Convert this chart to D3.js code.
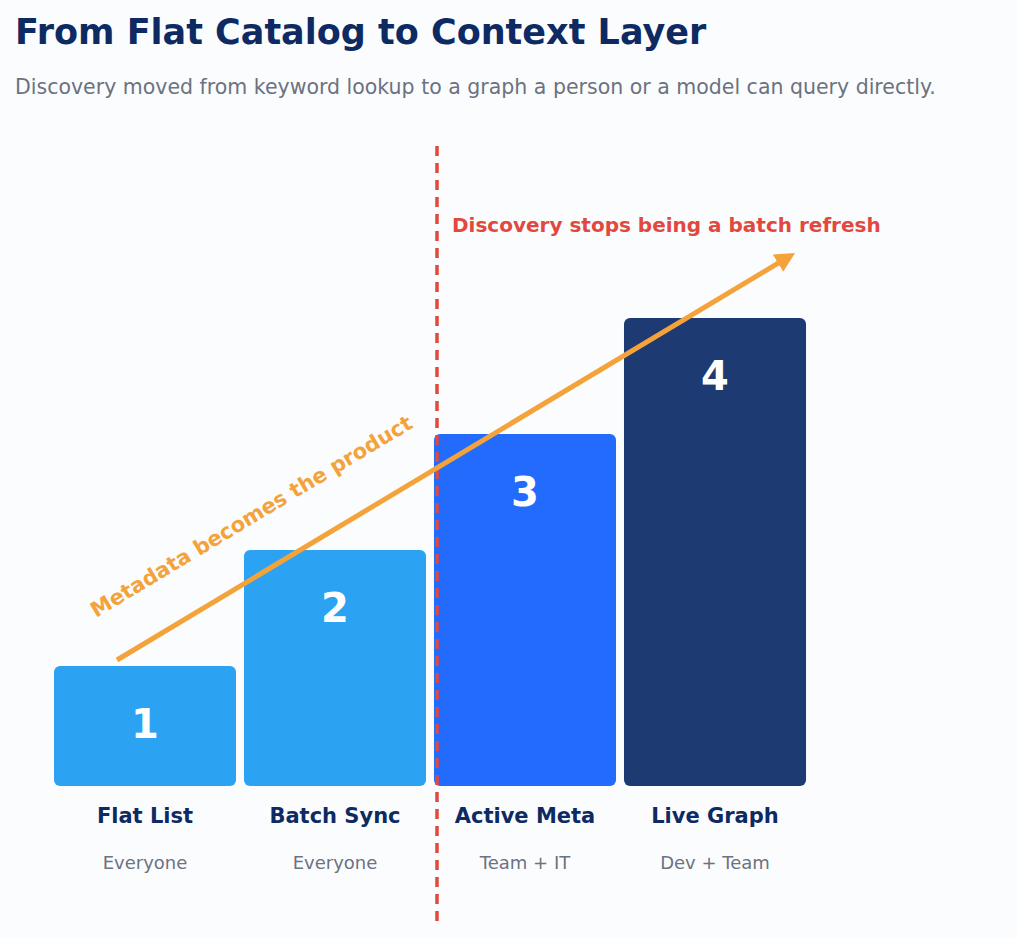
<!DOCTYPE html>
<html><head><meta charset="utf-8">
<script src="https://cdn.jsdelivr.net/npm/d3@7"></script>
<style>body{margin:0;background:#fbfcfe;font-family:"DejaVu Sans",sans-serif}</style>
</head><body>
<svg id="chart" width="1017" height="938"></svg>
<script>
var stages = ["Flat List", "Batch Sync", "Active Meta", "Live Graph"];
var audiences = ["Everyone", "Everyone", "Team + IT", "Dev + Team"];
var levels = [1, 2, 3, 4];
var colors = ["#2ca3f2", "#2ca3f2", "#226bfd", "#1e3a72"];

var svg = d3.select('#chart');
var base = 786;
var x = d3.scaleBand().domain(stages).range([50, 810]).paddingInner(0.042).paddingOuter(0.021);
var y = d3.scaleLinear().domain([0, 4]).range([782, 318]);

svg.append('rect').attr('width', 1017).attr('height', 938).attr('fill', '#fbfcfe');

svg.append('text').attr('x', 15).attr('y', 44).text('From Flat Catalog to Context Layer')
	.style('font-size', '35px').style('font-weight', 'bold').attr('fill', '#0d2a63');
svg.append('text').attr('x', 15).attr('y', 94).text('Discovery moved from keyword lookup to a graph a person or a model can query directly.')
	.style('font-size', '20.5px').attr('fill', '#6b7280');

stages.forEach(function(s, i){
	var cx = x(s) + x.bandwidth() / 2;
	svg.append('rect').attr('x', x(s)).attr('y', y(levels[i]))
		.attr('width', x.bandwidth()).attr('height', base - y(levels[i]))
		.attr('rx', 6).attr('fill', colors[i]);
	svg.append('text').attr('x', cx).attr('y', y(levels[i]) + 72).attr('text-anchor', 'middle')
		.text(levels[i]).style('font-size', '40px').style('font-weight', 'bold').attr('fill', '#fff');
	svg.append('text').attr('x', cx).attr('y', 823).attr('text-anchor', 'middle')
		.text(s).style('font-size', '21px').style('font-weight', 'bold').attr('fill', '#0d2a63');
	svg.append('text').attr('x', cx).attr('y', 869).attr('text-anchor', 'middle')
		.text(audiences[i]).style('font-size', '18px').attr('fill', '#6b7280');
});

// divider
svg.append('line').attr('x1', 437).attr('x2', 437).attr('y1', 146).attr('y2', 922)
	.attr('stroke', '#e2483d').attr('stroke-width', 3.5).attr('stroke-dasharray', '10,7');
svg.append('text').attr('x', 452).attr('y', 232).text('Discovery stops being a batch refresh')
	.style('font-size', '20px').style('font-weight', 'bold').attr('fill', '#e2483d');

// trend arrow
svg.append('defs').append('marker').attr('id', 'arr').attr('viewBox', '0 0 10 10')
	.attr('refX', 7).attr('refY', 5).attr('markerWidth', 4).attr('markerHeight', 4).attr('orient', 'auto')
	.append('path').attr('d', 'M0,0 L10,5 L0,10 z').attr('fill', '#f4a23a');
svg.append('line').attr('x1', 117).attr('y1', 660).attr('x2', 790).attr('y2', 256)
	.attr('stroke', '#f4a23a').attr('stroke-width', 5).attr('marker-end', 'url(#arr)');
var ang = Math.atan2(256 - 660, 790 - 117) * 180 / Math.PI;
svg.append('text').attr('transform', 'translate(96,618) rotate(' + ang + ')')
	.text('Metadata becomes the product').style('font-size', '21px').style('font-weight', 'bold')
	.attr('fill', '#f4a23a');
</script>
</body></html>
